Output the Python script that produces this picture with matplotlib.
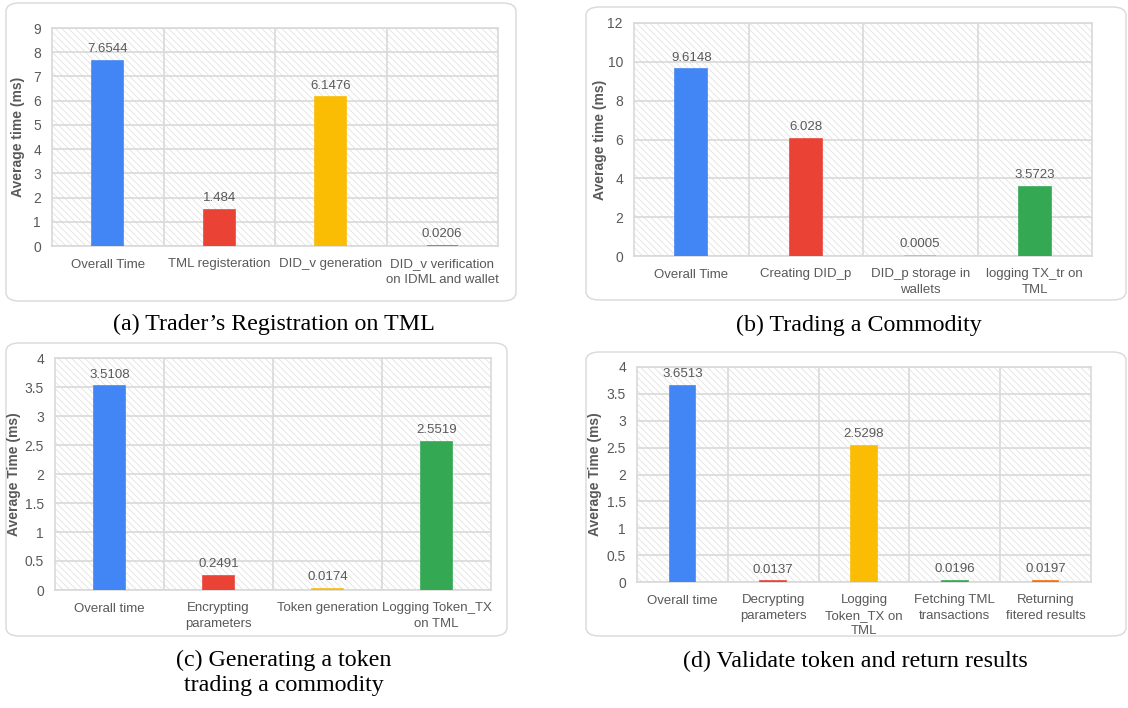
import matplotlib
matplotlib.use("Agg")
import matplotlib.pyplot as plt
from matplotlib.patches import FancyBboxPatch, Rectangle
from matplotlib.ticker import FuncFormatter

plt.rcParams["font.family"] = ["Liberation Sans", "DejaVu Sans"]
plt.rcParams["hatch.linewidth"] = 0.5

W, H = 1128, 708

BLUE = "#4285F4"
RED = "#EA4335"
YELLOW = "#FBBC04"
GREEN = "#34A853"
ORANGE = "#FF6D01"
TEXT = "#595959"
GRID = "#d9d9d9"

# (a) Trader's Registration on TML
cats_a = ["Overall Time", "TML registeration", "DID_v generation",
          "DID_v verification\non IDML and wallet"]
vals_a = [7.6544, 1.484, 6.1476, 0.0206]

# (b) Trading a Commodity
cats_b = ["Overall Time", "Creating DID_p", "DID_p storage in\nwallets",
          "logging TX_tr on\nTML"]
vals_b = [9.6148, 6.028, 0.0005, 3.5723]

# (c) Generating a token trading a commodity
cats_c = ["Overall time", "Encrypting\nparameters", "Token generation",
          "Logging Token_TX\non TML"]
vals_c = [3.5108, 0.2491, 0.0174, 2.5519]

# (d) Validate token and return results
cats_d = ["Overall time", "Decrypting\nparameters", "Logging\nToken_TX on\nTML",
          "Fetching TML\ntransactions", "Returning\nfitered results"]
vals_d = [3.6513, 0.0137, 2.5298, 0.0196, 0.0197]

fig = plt.figure(figsize=(W / 100, H / 100), dpi=100)


def px_rect(l, t, r, b):
    return [l / W, 1 - b / H, (r - l) / W, (b - t) / H]


def frame(l, t, r, b):
    box = FancyBboxPatch((l / W, 1 - b / H), (r - l) / W, (b - t) / H,
                         boxstyle="round,pad=0,rounding_size=0.012",
                         transform=fig.transFigure, facecolor="white",
                         edgecolor=GRID, lw=1.0, zorder=-5)
    fig.patches.append(box)


def panel(rect, cats, vals, colors, ymax, step, ylabel, label_x):
    ax = fig.add_axes(px_rect(*rect))
    ax.set_zorder(2)
    ax.patch.set_alpha(0)
    x = list(range(len(cats)))
    ax.add_patch(Rectangle((0, 0), 1, 1, transform=ax.transAxes, fill=False,
                           hatch="\\" * 5, edgecolor="#dddddd", lw=0, zorder=0))
    ax.bar(x, vals, width=0.28, color=colors, edgecolor=colors, lw=1.2, zorder=3)
    for xi, v in zip(x, vals):
        ax.annotate(str(v), (xi, v), xytext=(0, 4), textcoords="offset points",
                    ha="center", va="bottom", fontsize=9.5, color=TEXT, zorder=4)
    ax.set_xlim(-0.5, len(cats) - 0.5)
    ax.set_ylim(0, ymax)
    n = int(round(ymax / step))
    ax.set_yticks([i * step for i in range(n + 1)])
    ax.yaxis.set_major_formatter(FuncFormatter(lambda v, p: f"{v:g}"))
    ax.set_xticks(x)
    ax.set_xticklabels(cats, fontsize=9.5, color=TEXT, linespacing=1.35)
    ax.set_xticks([i + 0.5 for i in range(len(cats) - 1)], minor=True)
    ax.tick_params(axis="x", which="both", length=0, pad=9)
    ax.tick_params(axis="y", length=0, pad=8, labelsize=10, labelcolor=TEXT)
    ax.grid(True, axis="y", color=GRID, lw=1.2, zorder=1)
    ax.grid(True, axis="x", which="minor", color=GRID, lw=1.2, zorder=1)
    ax.set_axisbelow(True)
    for s in ax.spines.values():
        s.set_color(GRID)
        s.set_linewidth(1.2)
    ax.set_ylabel(ylabel, fontsize=10, fontweight="bold", color=TEXT)
    # label centre sits about 7 px left of the anchor
    ax.yaxis.set_label_coords((label_x + 7 - rect[0]) / (rect[2] - rect[0]), 0.5)
    return ax


frame(6, 3, 516, 301)
frame(586, 7, 1126, 300)
frame(6, 343, 507, 636)
frame(586, 352, 1126, 636)

panel((52, 28, 498, 246), cats_a, vals_a, [BLUE, RED, YELLOW, GREEN], 9, 1,
      "Average time (ms)", 18)
panel((634, 23, 1092, 256), cats_b, vals_b, [BLUE, RED, YELLOW, GREEN], 12, 2,
      "Average time (ms)", 600)
panel((55, 358, 491, 590), cats_c, vals_c, [BLUE, RED, YELLOW, GREEN], 4, 0.5,
      "Average Time (ms)", 14)
panel((637, 367, 1091, 582), cats_d, vals_d, [BLUE, RED, YELLOW, GREEN, ORANGE],
      4, 0.5, "Average Time (ms)", 595)

cap = dict(ha="center", va="center", fontsize=17.3, family="Liberation Serif",
           color="black")
fig.text(274 / W, 1 - 324 / H, "(a) Trader\u2019s Registration on TML", **cap)
fig.text(859 / W, 1 - 325 / H, "(b) Trading a Commodity", **cap)
fig.text(284 / W, 1 - 673 / H, "(c) Generating a token\ntrading a commodity",
         linespacing=1.2, **cap)
fig.text(855 / W, 1 - 661 / H, "(d) Validate token and return results", **cap)

fig.savefig("out.png", dpi=100)
